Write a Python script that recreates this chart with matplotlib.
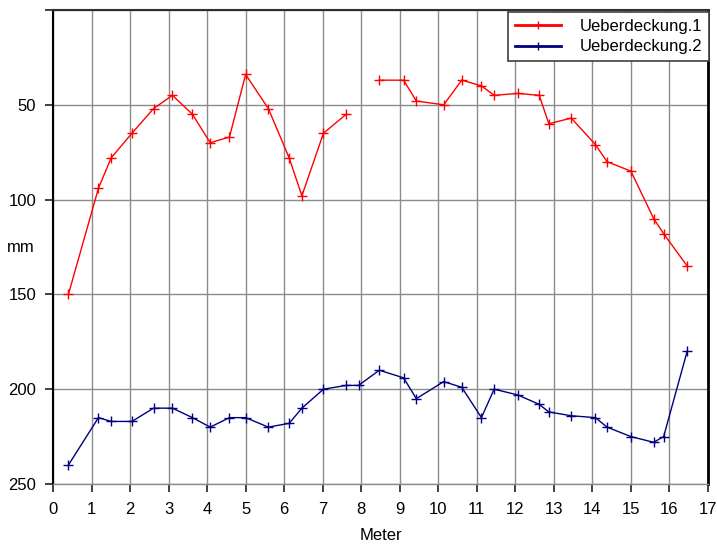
import numpy as np
import matplotlib
matplotlib.use("Agg")
import matplotlib.pyplot as plt

plt.rcParams['font.family'] = ['Liberation Sans', 'DejaVu Sans']

# positions along the wall (Meter)
meter = [0.40, 1.18, 1.51, 2.05, 2.61, 3.10, 3.62, 4.08, 4.58, 5.00,
         5.59, 6.13, 6.46, 7.02, 7.61, 7.93, 8.47, 9.10, 9.43, 10.14,
         10.61, 11.12, 11.45, 12.06, 12.62, 12.87, 13.45, 14.08, 14.38, 15.00,
         15.59, 15.85, 16.46]

# cover depth in mm (nan = no reading)
ueb1 = [150, 94, 78, 65, 52, 45, 55, 70, 67, 34,
        52, 78, 98, 65, 55, np.nan, 37, 37, 48, 50,
        37, 40, 45, 44, 45, 60, 57, 71, 80, 85,
        110, 118, 135]
ueb2 = [240, 215, 217, 217, 210, 210, 215, 220, 215, 215,
        220, 218, 210, 200, 198, 198, 190, 194, 205, 196,
        199, 215, 200, 203, 208, 212, 214, 215, 220, 225,
        228, 225, 180]

xticks = list(range(0, 18))
yticks = [0, 50, 100, 150, 200, 250]
ylabels = ['', '50', '100', '150', '200', '250']

fig = plt.figure(figsize=(7.17, 5.44), dpi=100)
ax = fig.add_axes([0.0739, 0.1103, 0.9135, 0.8713])

ax.plot(meter, ueb1, color='#ff0000', lw=1, marker='+', ms=7, mew=1,
        label='Ueberdeckung.1')
ax.plot(meter, ueb2, color='#000080', lw=1, marker='+', ms=7, mew=1,
        label='Ueberdeckung.2')

ax.set_xlim(0, 17)
ax.set_ylim(250, 0)
ax.set_xticks(xticks)
ax.set_yticks(yticks)
ax.set_yticklabels(ylabels)
ax.tick_params(labelsize=12, length=6, width=1.2, color='#202020')
ax.tick_params(axis='x', pad=7)
ax.tick_params(axis='y', pad=6)
ax.grid(True, color='#8c8c8c', lw=1)
ax.set_axisbelow(True)

ax.spines['left'].set_color('black')
ax.spines['left'].set_linewidth(1.5)
ax.spines['right'].set_color('black')
ax.spines['right'].set_linewidth(2)
ax.spines['top'].set_color('#303030')
ax.spines['top'].set_linewidth(1.5)
ax.spines['bottom'].set_color('#8c8c8c')
ax.spines['bottom'].set_linewidth(1)

ax.set_xlabel('Meter', fontsize=12, va='center')
ax.xaxis.set_label_coords(0.5, -0.108)
ax.set_ylabel('mm', fontsize=12, rotation=0, va='center')
ax.yaxis.set_label_coords(-0.049, 0.5)

leg = ax.legend(loc='upper right', bbox_to_anchor=(0.989, 0.978),
                bbox_transform=fig.transFigure, fontsize=12,
                fancybox=False, framealpha=1, edgecolor='#404040',
                borderpad=0.4, labelspacing=0.35, handlelength=2.8,
                handletextpad=1.1, borderaxespad=0, markerscale=0.9)
leg.get_frame().set_linewidth(1.2)
for h in leg.legend_handles:
    h.set_linewidth(2)

fig.savefig('out.png', dpi=100)
